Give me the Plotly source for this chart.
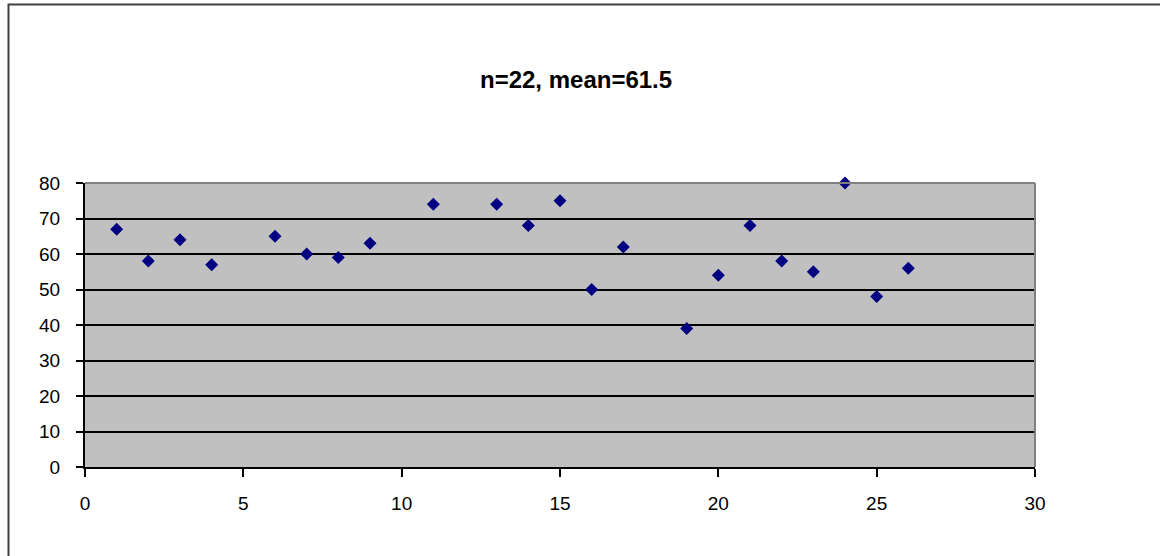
import plotly.graph_objects as go

# Observation index and measured value
x_vals = [1, 2, 3, 4, 6, 7, 8, 9, 11, 13, 14, 15, 16, 17, 19, 20, 21, 22, 23, 24, 25, 26]
y_vals = [67, 58, 64, 57, 65, 60, 59, 63, 74, 74, 68, 75, 50, 62, 39, 54, 68, 58, 55, 80, 48, 56]

x_ticks = [0, 5, 10, 15, 20, 25, 30]
y_ticks = [0, 10, 20, 30, 40, 50, 60, 70, 80]

n = len(y_vals)
mean = sum(y_vals) / n
title_text = f"n={n}, mean={mean:.1f}"

W, H = 1160, 556
L, R, T, B = 85, 125, 183, 89

font_family = "Liberation Sans, Arial, sans-serif"

fig = go.Figure(
    go.Scatter(
        x=x_vals,
        y=y_vals,
        mode="markers",
        marker=dict(symbol="diamond", size=10, color="#000080",
                    line=dict(width=0)),
        cliponaxis=False,
        hoverinfo="x+y",
    )
)

fig.update_layout(
    width=W,
    height=H,
    margin=dict(l=L, r=R, t=T, b=B, pad=0),
    paper_bgcolor="white",
    plot_bgcolor="#C0C0C0",
    showlegend=False,
    font=dict(family=font_family, size=19, color="black"),
)

fig.update_xaxes(
    range=[0, 30],
    tickvals=x_ticks,
    ticktext=[str(v) for v in x_ticks],
    showgrid=False,
    zeroline=False,
    showline=True,
    linecolor="black",
    linewidth=2,
    ticks="outside",
    ticklen=8,
    tickwidth=2,
    tickcolor="black",
    ticklabelstandoff=10,
)

fig.update_yaxes(
    range=[0, 80],
    tickvals=y_ticks,
    ticktext=[str(v) for v in y_ticks],
    showgrid=True,
    gridcolor="black",
    gridwidth=2,
    zeroline=False,
    showline=True,
    linecolor="black",
    linewidth=2,
    ticks="outside",
    ticklen=7,
    tickwidth=2,
    tickcolor="black",
    ticklabelstandoff=12,
)

# Gray frame on the top and right of the plotting area
fig.add_shape(type="line", xref="x domain", yref="y domain",
              x0=0, x1=1, y0=1, y1=1, line=dict(color="#808080", width=2),
              layer="above")
fig.add_shape(type="line", xref="x domain", yref="y domain",
              x0=1, x1=1, y0=0, y1=1, line=dict(color="#808080", width=2),
              layer="above")

# Outer chart border (runs past the right and bottom of the page)
pw, ph = W - L - R, H - T - B
fig.add_shape(type="rect", xref="paper", yref="paper",
              x0=(8.5 - L) / pw, x1=(W + 60 - L) / pw,
              y0=(H - B - (H + 60)) / ph, y1=(H - B - 4.5) / ph,
              line=dict(color="#404040", width=2), fillcolor="rgba(0,0,0,0)")

# Chart title
fig.add_annotation(
    text=f"<b>{title_text}</b>",
    xref="paper", yref="paper",
    x=(576 - L) / pw, y=(H - B - 79) / ph,
    xanchor="center", yanchor="middle",
    showarrow=False,
    font=dict(family=font_family, size=24, color="black"),
)

fig.write_html("out.html")
